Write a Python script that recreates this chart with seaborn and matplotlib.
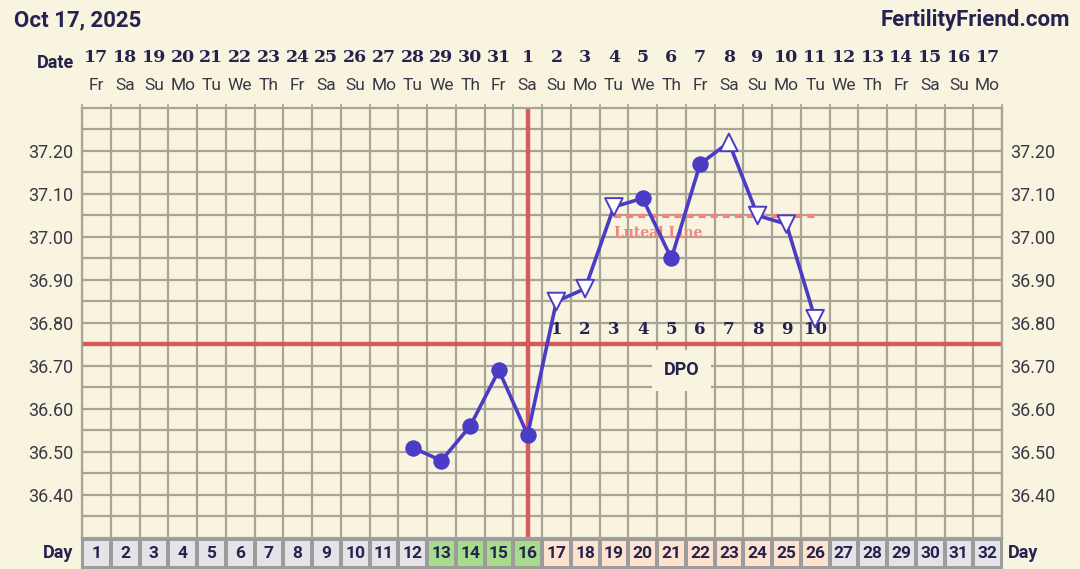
import numpy as np
import pandas as pd
import matplotlib
matplotlib.use('Agg')
import matplotlib.pyplot as plt
import seaborn as sns
from matplotlib.colors import ListedColormap
from matplotlib.transforms import blended_transform_factory

# --- chart data ---
cycle_days = list(range(1, 33))
date_nums = [17, 18, 19, 20, 21, 22, 23, 24, 25, 26, 27, 28, 29, 30, 31,
             1, 2, 3, 4, 5, 6, 7, 8, 9, 10, 11, 12, 13, 14, 15, 16, 17]
weekdays = ['Fr', 'Sa', 'Su', 'Mo', 'Tu', 'We', 'Th', 'Fr', 'Sa', 'Su', 'Mo',
            'Tu', 'We', 'Th', 'Fr', 'Sa', 'Su', 'Mo', 'Tu', 'We', 'Th', 'Fr',
            'Sa', 'Su', 'Mo', 'Tu', 'We', 'Th', 'Fr', 'Sa', 'Su', 'Mo']
# 0 = normal, 1 = fertile, 2 = luteal
day_phase = [0] * 12 + [1] * 4 + [2] * 10 + [0] * 6

temp_days = [12, 13, 14, 15, 16, 17, 18, 19, 20, 21, 22, 23, 24, 25, 26]
temps = [36.51, 36.48, 36.56, 36.69, 36.54, 36.85, 36.88, 37.07, 37.09,
         36.95, 37.17, 37.22, 37.05, 37.03, 36.81]
temp_marks = ['o', 'o', 'o', 'o', 'o', 'v', 'v', 'v', 'o', 'o', 'o', '^',
              'v', 'v', 'v']

dpo_days = [17, 18, 19, 20, 21, 22, 23, 24, 25, 26]
dpo_nums = [1, 2, 3, 4, 5, 6, 7, 8, 9, 10]

ovulation_day = 16
coverline = 36.75
luteal_level = 37.05
luteal_from, luteal_to = 19, 26
temp_ticks = [36.40, 36.50, 36.60, 36.70, 36.80, 36.90, 37.00, 37.10, 37.20]

# colours
bg = '#F8F4E0'
navy = '#26224F'
purple = '#4A3CC4'
red = '#D65C5C'
salmon = '#EE8580'
grid_c = '#A8A596'

sns.set_theme(style='white')
plt.rcParams['font.family'] = ['Roboto', 'DejaVu Sans']

fig = plt.figure(figsize=(10.8, 5.69), dpi=100, facecolor=bg)
ax = fig.add_axes([82 / 1080, 1 - 538 / 569, 920 / 1080, 430 / 569])
ax.set_facecolor(bg)

# grid
ax.set_xlim(0.5, 32.5)
ax.set_ylim(36.30, 37.30)
ax.set_xticks([])
ax.set_xticks(np.arange(0.5, 33, 1), minor=True)
ax.set_yticks(temp_ticks)
ax.set_yticks(np.arange(36.35, 37.30, 0.1), minor=True)
ax.set_yticklabels([f'{t:.2f}' for t in temp_ticks])
ax.grid(which='both', color=grid_c, linewidth=1.6, zorder=0)
ax.tick_params(axis='y', which='both', length=0, labelsize=13,
               labelcolor='#3A3846', left=False, labelleft=True,
               labelright=True, pad=6)
ax.tick_params(axis='x', which='minor', top=True, bottom=False,
               direction='out', length=3, color=grid_c, width=1.2)
for sp in ax.spines.values():
    sp.set_color(grid_c)
    sp.set_linewidth(1.6)

# coverline and ovulation line
ax.axhline(coverline, color=red, linewidth=3.2, zorder=2)
ax.axvline(ovulation_day, color=red, linewidth=3.2, zorder=2)

# luteal line
ax.hlines(luteal_level, luteal_from, luteal_to, colors=salmon,
          linewidth=3, linestyles=(0, (1.7, 1.2)), zorder=2)
ax.text(luteal_from, luteal_level - 0.04, 'Luteal Line',
        color=salmon, fontsize=10, fontweight='bold',
        family='DejaVu Serif', ha='left', va='center', zorder=3)

# temperature line
temp_df = pd.DataFrame({'day': temp_days, 'temp': temps, 'mark': temp_marks})
sns.lineplot(data=temp_df, x='day', y='temp', color=purple, linewidth=2.6,
             ax=ax, zorder=4)
filled = temp_df[temp_df['mark'] == 'o']
hollow = temp_df[temp_df['mark'] != 'o']
sns.scatterplot(data=filled, x='day', y='temp', color=purple, s=140,
                edgecolor=purple, linewidth=0, ax=ax, zorder=5, legend=False)
sns.scatterplot(data=hollow, x='day', y='temp', style='mark',
                markers={'v': 'v', '^': '^'}, s=160, facecolor='white',
                edgecolor=purple, linewidth=1.4, ax=ax, zorder=5,
                legend=False)
ax.set_xlabel('')
ax.set_ylabel('')

# DPO numbers
for d, n in zip(dpo_days, dpo_nums):
    ax.text(d, 36.786, str(n), color=navy, fontsize=12, fontweight='bold',
            family='DejaVu Serif', ha='center', va='center', zorder=3)
ax.text(21.35, 36.69, 'DPO', color=navy, fontsize=13, fontweight='bold',
        ha='center', va='center', zorder=3,
        bbox=dict(boxstyle='square,pad=0.65', facecolor=bg, edgecolor='none'))

# header
fig.text(14 / 1080, 1 - 20 / 569, 'Oct 17, 2025', color=navy, fontsize=16,
         fontweight='bold', ha='left', va='center')
fig.text(1070 / 1080, 1 - 20 / 569, 'FertilityFriend.com', color=navy,
         fontsize=16, fontweight='bold', ha='right', va='center')
fig.text(56 / 1080, 1 - 63 / 569, 'Date', color=navy, fontsize=13,
         fontweight='bold', ha='center', va='center')
trans = blended_transform_factory(ax.transData, fig.transFigure)
for d, num, wd in zip(cycle_days, date_nums, weekdays):
    fig.text(d, 1 - 57 / 569, str(num), transform=trans, color=navy,
             fontsize=12.5, fontweight='bold', family='DejaVu Serif',
             ha='center', va='center')
    fig.text(d, 1 - 86 / 569, wd, transform=trans, color='#3A3846',
             fontsize=12.5, ha='center', va='center')

# day row
day_ax = fig.add_axes([82 / 1080, 1 - 568 / 569, 920 / 1080, 29 / 569])
phase_cmap = ListedColormap(['#E4E3E8', '#A6DD8C', '#FDE2CF'])
sns.heatmap(np.array([day_phase]), cmap=phase_cmap, vmin=-0.5, vmax=2.5,
            cbar=False, linewidths=1.5, linecolor='#9C9C9C',
            annot=np.array([cycle_days]), fmt='d',
            annot_kws=dict(color=navy, fontsize=12.5, fontweight='bold'),
            xticklabels=False, yticklabels=False, ax=day_ax)
for sp in day_ax.spines.values():
    sp.set_visible(True)
    sp.set_color('#9C9C9C')
    sp.set_linewidth(1.5)
fig.text(58 / 1080, 1 - 553 / 569, 'Day', color=navy, fontsize=13,
         fontweight='bold', ha='center', va='center')
fig.text(1008 / 1080, 1 - 553 / 569, 'Day', color=navy, fontsize=13,
         fontweight='bold', ha='left', va='center')

fig.savefig('out.png', dpi=100, facecolor=bg)
